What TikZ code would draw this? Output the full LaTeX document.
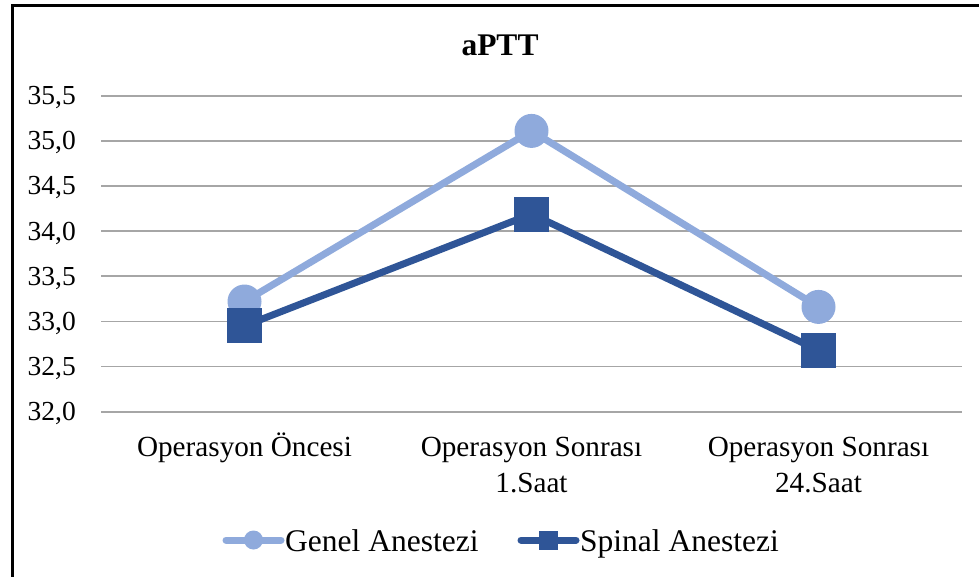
\documentclass[tikz,border=0pt]{standalone}
\usepackage{fontspec}
\setmainfont{Liberation Serif}
\definecolor{genel}{HTML}{8FAADC}
\definecolor{spinal}{HTML}{2F5597}
\definecolor{gridc}{HTML}{A6A6A6}
\begin{document}
\begin{tikzpicture}[x=1pt,y=-1pt,
  gridline/.style={draw=gridc,line width=1.8pt},
  ylab/.style={anchor=base east,inner sep=0pt,font=\fontsize{27.5}{32}\selectfont},
  catlab/.style={anchor=base,inner sep=0pt,font=\fontsize{29.2}{34}\selectfont},
  leglab/.style={anchor=base west,inner sep=0pt,font=\fontsize{31.5}{36}\selectfont},
  gline/.style={draw=genel,line width=7pt,line join=round},
  sline/.style={draw=spinal,line width=7pt,line join=round},
  gmark/.style={circle,fill=genel,minimum size=34pt,inner sep=0pt},
  smark/.style={rectangle,fill=spinal,minimum size=35pt,inner sep=0pt},
  glegmark/.style={circle,fill=genel,minimum size=19pt,inner sep=0pt},
  slegmark/.style={rectangle,fill=spinal,minimum size=19pt,inner sep=0pt},
  legline/.style={line width=7pt,line cap=round}]
\useasboundingbox (0,0) rectangle (979,576);
\clip (0,0) rectangle (979,576);
\fill[white] (0,0) rectangle (979,576);
\draw[line width=3pt] (12,5) rectangle (1000,600);
% title
\node[anchor=base,inner sep=0pt,font=\bfseries\fontsize{31.5}{36}\selectfont] (title) at (500,55) {aPTT};
% grid and y labels
\foreach \v/\lab [count=\i] in {35.5/{35,5},35.0/{35,0},34.5/{34,5},34.0/{34,0},33.5/{33,5},33.0/{33,0},32.5/{32,5},32.0/{32,0}}{
  \pgfmathsetmacro{\yy}{95.7+(35.5-\v)*90.28}
  \draw[gridline] (101,\yy) -- (962,\yy);
  \node[ylab] (y\i) at (76,\yy+9) {\lab};
}
% category labels
\node[catlab] (c1) at (244.5,456) {Operasyon Öncesi};
\node[catlab] (c2a) at (531.5,456) {Operasyon Sonrası};
\node[catlab] (c2b) at (531.5,492) {1.Saat};
\node[catlab] (c3a) at (818.5,456) {Operasyon Sonrası};
\node[catlab] (c3b) at (818.5,492) {24.Saat};
% data points
\coordinate (g1) at (244.5,301.5);
\coordinate (g2) at (531.5,130.9);
\coordinate (g3) at (818.5,306.9);
\coordinate (s1) at (244.5,325.9);
\coordinate (s2) at (531.5,214.0);
\coordinate (s3) at (818.5,350.3);
% Genel series
\draw[gline] (g1) -- (g2) -- (g3);
\node[gmark] (gm1) at (g1) {};
\node[gmark] (gm2) at (g2) {};
\node[gmark] (gm3) at (g3) {};
% Spinal series
\draw[sline] (s1) -- (s2) -- (s3);
\node[smark] (sm1) at (s1) {};
\node[smark] (sm2) at (s2) {};
\node[smark] (sm3) at (s3) {};
% legend
\coordinate (lga) at (226,540);
\coordinate (lgb) at (281,540);
\draw[legline,draw=genel] (lga) -- (lgb);
\node[glegmark] (lgm) at (253.5,540) {};
\node[leglab] (lgt) at (285,551) {Genel Anestezi};
\coordinate (lsa) at (521,540);
\coordinate (lsb) at (576,540);
\draw[legline,draw=spinal] (lsa) -- (lsb);
\node[slegmark] (lsm) at (548.5,540) {};
\node[leglab] (lst) at (580,551) {Spinal Anestezi};
\end{tikzpicture}
\end{document}
